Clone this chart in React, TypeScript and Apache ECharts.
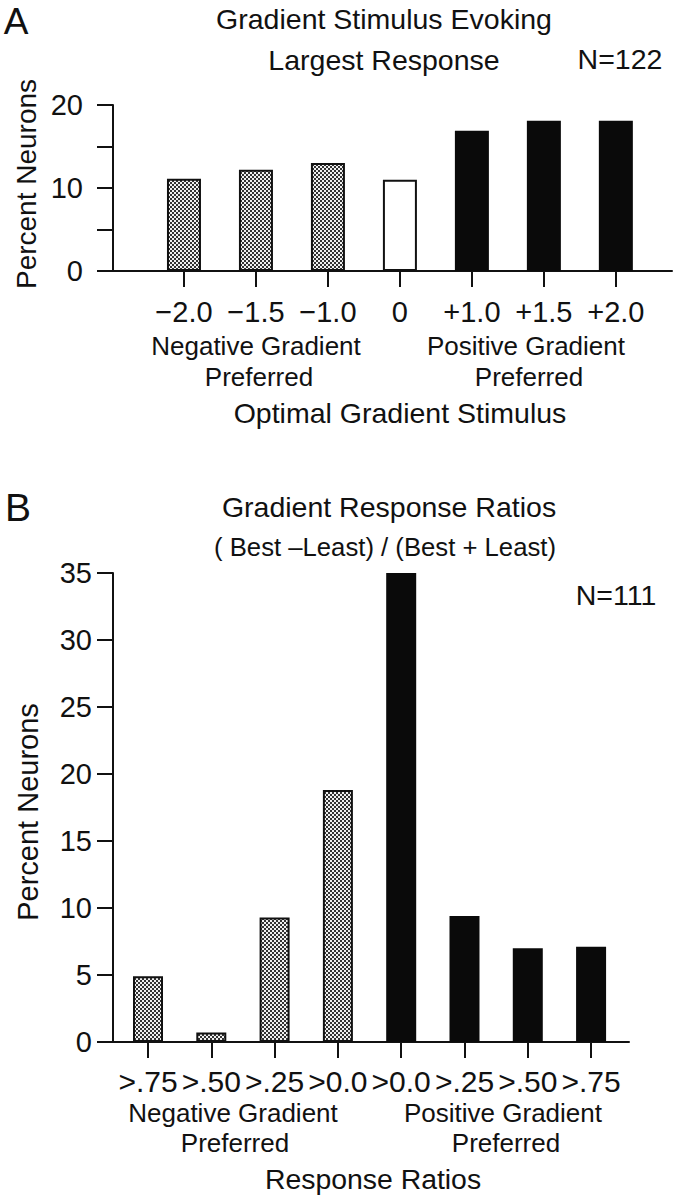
import React, { useEffect, useRef } from "react";
import * as echarts from "echarts";

const catsA = ["\u22122.0", "\u22121.5", "\u22121.0", "0", "+1.0", "+1.5", "+2.0"];
const valsA = [11.1, 12.2, 13.0, 11.0, 16.9, 18.1, 18.1];
const kindA = ["neg", "neg", "neg", "zero", "pos", "pos", "pos"];
const yTicksA = [0, 5, 10, 15, 20];
const yLabelsA = [0, 10, 20];

const catsB = [">.75", ">.50", ">.25", ">0.0", ">0.0", ">.25", ">.50", ">.75"];
const valsB = [4.9, 0.7, 9.3, 18.8, 35.0, 9.4, 7.0, 7.1];
const kindB = ["neg", "neg", "neg", "neg", "pos", "pos", "pos", "pos"];
const yTicksB = [0, 5, 10, 15, 20, 25, 30, 35];

const FONT = "'Liberation Sans', Arial, Helvetica, sans-serif";
const INK = "#111";

function makePattern() {
  const c = document.createElement("canvas");
  c.width = 4;
  c.height = 4;
  const ctx = c.getContext("2d")!;
  ctx.fillStyle = "#f0f0f0";
  ctx.fillRect(0, 0, 4, 4);
  ctx.fillStyle = "#333";
  ctx.fillRect(0, 0, 2, 2);
  ctx.fillRect(2, 2, 2, 2);
  return c;
}

function styleFor(kind: string, pattern: any) {
  if (kind === "neg")
    return { color: { image: pattern, repeat: "repeat" }, borderColor: INK, borderWidth: 2 };
  if (kind === "zero") return { color: "#fff", borderColor: INK, borderWidth: 2 };
  return { color: "#0a0a0a", borderColor: "#0a0a0a", borderWidth: 0 };
}

function txt(text: string, x: number, y: number, size: number, extra: any = {}) {
  return {
    type: "text",
    x,
    y,
    rotation: extra.rotation || 0,
    style: {
      text,
      fill: INK,
      font: `${size}px ${FONT}`,
      align: "center",
      verticalAlign: "middle",
      textAlign: "center",
      textVerticalAlign: "middle",
    },
  };
}

export default function App() {
  const ref = useRef<HTMLDivElement>(null);
  useEffect(() => {
    if (!ref.current) return;
    const chart = echarts.init(ref.current, null, { renderer: "svg" });
    const pattern = makePattern();

    const axisLineStyle = { color: INK, width: 2 };
    const xA = catsA.map((_, i) => i);
    const xB = catsB.map((_, i) => i);

    chart.setOption({
      animation: false,
      backgroundColor: "#fff",
      grid: [
        { left: 113, top: 105, width: 559, height: 166 },
        { left: 113, top: 573, width: 516, height: 469 },
      ],
      xAxis: [
        {
          gridIndex: 0,
          type: "value",
          min: -0.986,
          max: 6.78,
          axisLine: { show: true, onZero: false, lineStyle: axisLineStyle },
          axisTick: { show: true, customValues: xA, length: 16, lineStyle: axisLineStyle },
          axisLabel: {
            customValues: xA,
            formatter: (v: number) => catsA[Math.round(v)] ?? "",
            margin: 26,
            fontSize: 29,
            fontFamily: FONT,
            color: INK,
          },
          splitLine: { show: false },
        },
        {
          gridIndex: 1,
          type: "value",
          min: -0.553,
          max: 7.599,
          axisLine: { show: true, onZero: false, lineStyle: axisLineStyle },
          axisTick: { show: true, customValues: xB, length: 16, lineStyle: axisLineStyle },
          axisLabel: {
            customValues: xB,
            formatter: (v: number) => catsB[Math.round(v)] ?? "",
            margin: 24,
            fontSize: 30,
            fontFamily: FONT,
            color: INK,
          },
          splitLine: { show: false },
        },
      ],
      yAxis: [
        {
          gridIndex: 0,
          type: "value",
          min: 0,
          max: 20,
          interval: 5,
          axisLine: { show: true, onZero: false, lineStyle: axisLineStyle },
          axisTick: { show: true, customValues: yTicksA, length: 16, lineStyle: axisLineStyle },
          axisLabel: {
            customValues: yLabelsA,
            formatter: (v: number) => String(v),
            margin: 30,
            fontSize: 29,
            fontFamily: FONT,
            color: INK,
          },
          splitLine: { show: false },
        },
        {
          gridIndex: 1,
          type: "value",
          min: 0,
          max: 35,
          interval: 5,
          axisLine: { show: true, onZero: false, lineStyle: axisLineStyle },
          axisTick: { show: true, customValues: yTicksB, length: 16, lineStyle: axisLineStyle },
          axisLabel: {
            customValues: yTicksB,
            formatter: (v: number) => String(v),
            margin: 21,
            fontSize: 29,
            fontFamily: FONT,
            color: INK,
          },
          splitLine: { show: false },
        },
      ],
      series: [
        {
          type: "bar",
          xAxisIndex: 0,
          yAxisIndex: 0,
          barWidth: 34,
          data: valsA.map((v, i) => ({ value: [i, v], itemStyle: styleFor(kindA[i], pattern) })),
        },
        {
          type: "bar",
          xAxisIndex: 1,
          yAxisIndex: 1,
          barWidth: 30,
          data: valsB.map((v, i) => ({ value: [i, v], itemStyle: styleFor(kindB[i], pattern) })),
        },
      ],
      graphic: [
        txt("A", 16, 21, 37),
        txt("Gradient Stimulus Evoking", 384, 19, 28.5),
        txt("Largest Response", 384, 60, 28.5),
        txt("N=122", 620, 59, 28.5),
        txt("Percent Neurons", 26, 184, 28, { rotation: Math.PI / 2 }),
        txt("Negative Gradient", 256, 346, 26),
        txt("Preferred", 259, 377, 26),
        txt("Positive Gradient", 526, 346, 26),
        txt("Preferred", 529, 377, 26),
        txt("Optimal Gradient Stimulus", 400, 413, 28.5),
        txt("B", 18, 507, 39),
        txt("Gradient Response Ratios", 389, 507, 28.5),
        txt("( Best \u2013Least) / (Best + Least)", 385, 547, 25.7),
        txt("N=111", 616, 595, 28.5),
        txt("Percent Neurons", 28, 812, 29, { rotation: Math.PI / 2 }),
        txt("Negative Gradient", 233, 1113, 26),
        txt("Preferred", 235, 1143, 26),
        txt("Positive Gradient", 503, 1113, 26),
        txt("Preferred", 506, 1143, 26),
        txt("Response Ratios", 373, 1179, 28.4),
      ],
    });
    return () => chart.dispose();
  }, []);
  return (
    <div
      ref={ref}
      style={{ position: "fixed", left: 0, top: 0, width: 677, height: 1199, background: "#fff" }}
    />
  );
}
